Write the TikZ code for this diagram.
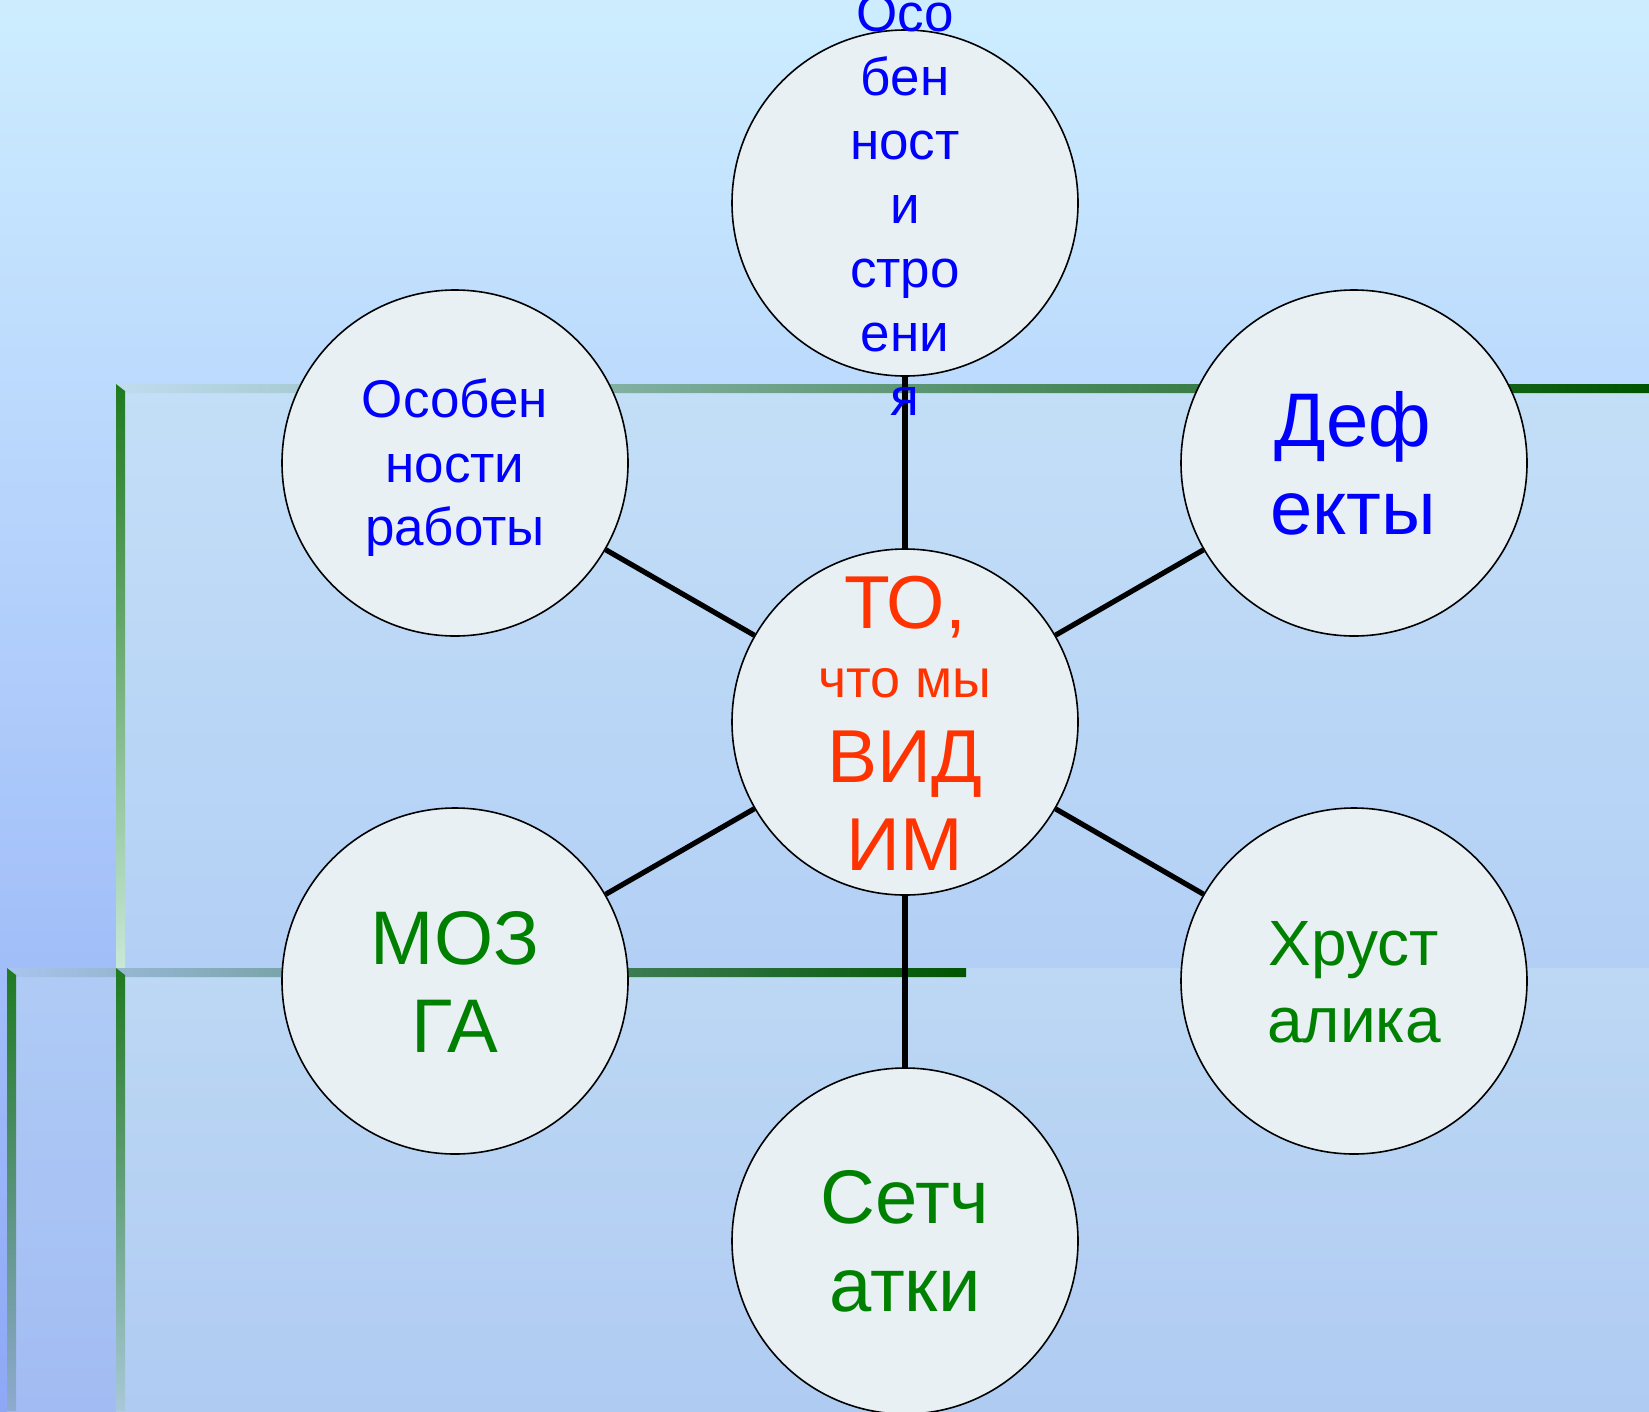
\documentclass[tikz,border=0pt]{standalone}
\usepackage{fontspec}
\setmainfont{Liberation Sans}
\definecolor{bgtop}{HTML}{CDEDFF}
\definecolor{bgbot}{HTML}{8EA8F6}
\definecolor{rbtop}{HTML}{C3DFF7}
\definecolor{rbbot}{HTML}{B3CFF5}
\definecolor{rctop}{HTML}{AFCBF5}
\definecolor{rcbot}{HTML}{A2BCF3}
\definecolor{rdtop}{HTML}{BCD8F4}
\definecolor{rdbot}{HTML}{B0CBF2}
\definecolor{gdark}{HTML}{1F7A1F}
\definecolor{gend}{HTML}{005500}
\definecolor{bubblefill}{HTML}{E8F0F4}
\definecolor{tblue}{HTML}{0000FF}
\definecolor{tgreen}{HTML}{008000}
\definecolor{tred}{HTML}{FF3300}
\tikzset{
  bubble/.style={circle, draw=black, line width=1.6pt, fill=bubblefill, minimum size=346pt, inner sep=0pt},
  conn/.style={line width=5.2pt, draw=black},
  lbl/.style={anchor=base, inner sep=0pt, outer sep=0pt},
  blueS/.style={lbl, text=tblue, font=\fontsize{53}{64}\selectfont},
  blueL/.style={lbl, text=tblue, font=\fontsize{76}{88}\selectfont},
  greenL/.style={lbl, text=tgreen, font=\fontsize{76}{88}\selectfont},
  greenM/.style={lbl, text=tgreen, font=\fontsize{64}{77}\selectfont},
  redL/.style={lbl, text=tred, font=\fontsize{75}{88}\selectfont},
  redS/.style={lbl, text=tred, font=\fontsize{54}{64}\selectfont},
}
\begin{document}
\begin{tikzpicture}[x=1pt,y=-1pt]
\useasboundingbox (0,0) rectangle (1649,1411);
\clip (0,0) rectangle (1649,1411);
% background
\shade[top color=bgtop, bottom color=bgbot] (0,0) rectangle (1649,1411);
\shade[top color=rbtop, bottom color=rbbot] (116,384) rectangle (1649,968);
\shade[top color=rctop, bottom color=rcbot] (7,968) rectangle (116,1411);
\shade[top color=rdtop, bottom color=rdbot] (116,968) rectangle (1649,1411);
% green frame bars
\shade[left color={rgb,255:red,192;green,220;blue,240}, right color=gend]
  (116,384) -- (1649,384) -- (1649,393) -- (125,393) -- cycle;
\shade[top color=gdark, bottom color={rgb,255:red,200;green,232;blue,216}]
  (116,384) -- (125,391) -- (125,968) -- (116,968) -- cycle;
\shade[left color={rgb,255:red,170;green,196;blue,238}, right color=gend]
  (7,968) -- (966,968) -- (966,977) -- (16,977) -- cycle;
\shade[top color=gdark, bottom color={rgb,255:red,143;green,170;blue,208}]
  (7,968) -- (16,975) -- (16,1411) -- (7,1411) -- cycle;
\shade[top color=gdark, bottom color={rgb,255:red,168;green,200;blue,216}]
  (116,968) -- (125,975) -- (125,1411) -- (116,1411) -- cycle;
% circles
\node[bubble] (c0) at (905,722) {};
\node[bubble] (c1) at (905,203) {};
\node[bubble] (c2) at (455,463) {};
\node[bubble] (c3) at (1354,463) {};
\node[bubble] (c4) at (455,981) {};
\node[bubble] (c5) at (1354,981) {};
\node[bubble] (c6) at (905,1241) {};
% connectors
\foreach \k in {1,...,6} \draw[conn] (c0) -- (c\k);
% texts
\foreach \w/\yy [count=\i] in {Осо/31, бен/95, ност/159, и/223, стро/287, ени/351, я/415}
  \node[blueS] (ta\i) at (905,\yy) {\w};
\foreach \w/\yy [count=\i] in {Особен/417, ности/482, работы/545}
  \node[blueS] (tb\i) at (455,\yy) {\w};
\node[blueL] (tc1) at (1353,446) {Деф};
\node[blueL] (tc2) at (1353,534) {екты};
\node[greenL] (td1) at (455,964) {МОЗ};
\node[greenL] (td2) at (455,1052) {ГА};
\node[greenM] (te1) at (1354,965) {Хруст};
\node[greenM] (te2) at (1354,1042) {алика};
\node[greenL] (tf1) at (905,1223) {Сетч};
\node[greenL] (tf2) at (905,1311) {атки};
\node[redL] (tg1) at (905,628) {ТО,};
\node[redS] (tg2) at (905,697) {что мы};
\node[redL] (tg3) at (905,782) {ВИД};
\node[redL] (tg4) at (905,870) {ИМ};
\end{tikzpicture}
\end{document}
